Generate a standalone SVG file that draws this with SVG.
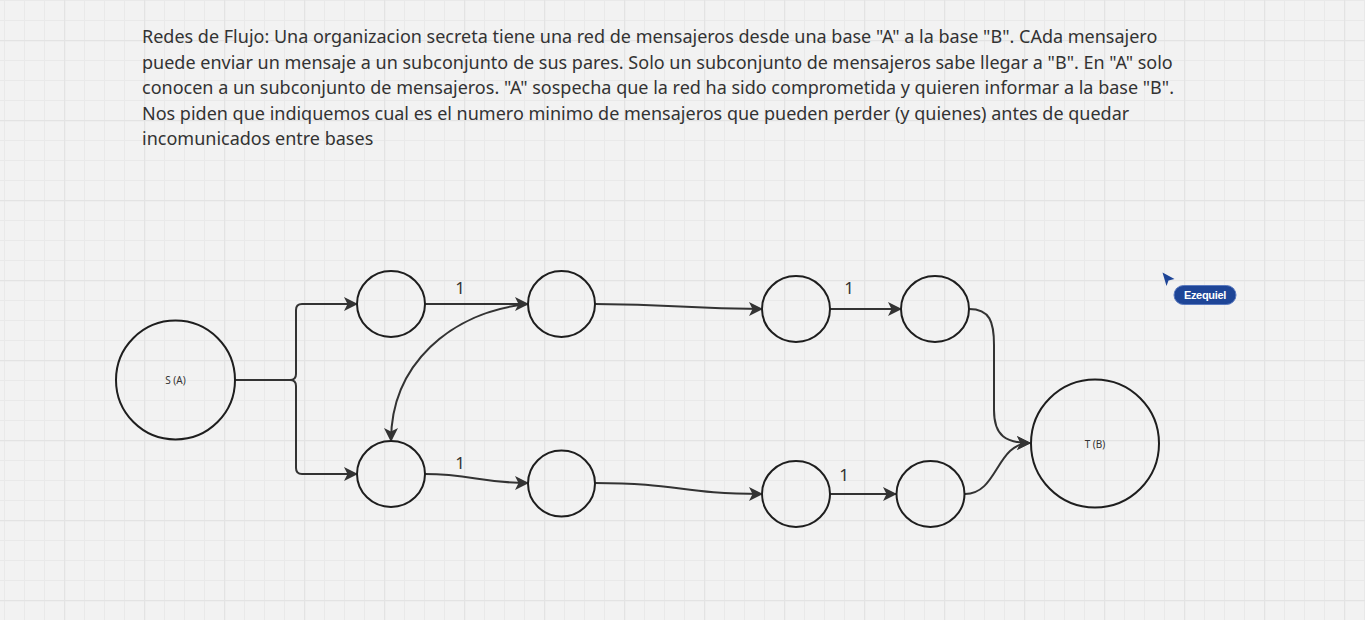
<svg xmlns="http://www.w3.org/2000/svg" width="1365" height="620" viewBox="0 0 1365 620">
<defs>
<pattern id="minor" x="4" y="0" width="20" height="20" patternUnits="userSpaceOnUse">
<path d="M0.5,0 V20 M0,0.5 H20" stroke="#e9e9e9" stroke-width="1" fill="none"/>
</pattern>
<pattern id="major" x="64" y="40" width="80" height="80" patternUnits="userSpaceOnUse">
<path d="M0.5,0 V80 M0,0.5 H80" stroke="#e3e3e3" stroke-width="1.5" fill="none"/>
</pattern>
<marker id="arr" markerUnits="userSpaceOnUse" markerWidth="16" markerHeight="16" refX="13" refY="7" orient="auto" viewBox="0 0 16 14">
<path d="M0,0 L14,7 L0,14 L3.5,7 z" fill="#333333"/>
</marker>
<style>
.node{fill:none;stroke:#1e1e1e;stroke-width:2}
.edge{fill:none;stroke:#333333;stroke-width:2;marker-end:url(#arr)}
.lbl{font-family:"Noto Sans","Open Sans",sans-serif;font-size:10px;fill:#333333;text-anchor:middle}
.w{font-family:"Noto Sans","Open Sans",sans-serif;font-size:17px;fill:#333333;text-anchor:middle}
.desc{font-family:"Noto Sans","Open Sans",sans-serif;font-size:18px;fill:#333333}
</style>
</defs>
<rect width="1365" height="620" fill="#f2f2f2"/>
<rect width="1365" height="620" fill="url(#minor)"/>
<rect width="1365" height="620" fill="url(#major)"/>

<g id="description">
<text class="desc" x="142" y="43">Redes de Flujo: Una organizacion secreta tiene una red de mensajeros desde una base "A" a la base "B". CAda mensajero</text>
<text class="desc" x="142" y="68.5">puede enviar un mensaje a un subconjunto de sus pares. Solo un subconjunto de mensajeros sabe llegar a "B". En "A" solo</text>
<text class="desc" x="142" y="94">conocen a un subconjunto de mensajeros. "A" sospecha que la red ha sido comprometida y quieren informar a la base "B".</text>
<text class="desc" x="142" y="119.5">Nos piden que indiquemos cual es el numero minimo de mensajeros que pueden perder (y quienes) antes de quedar</text>
<text class="desc" x="142" y="145">incomunicados entre bases</text>
</g>

<g id="connectors">
<path class="edge" d="M235,380 H290 Q296,380 296,374 V310 Q296,304 302,304 H357"/>
<path class="edge" d="M235,380 H290 Q296,380 296,386 V468 Q296,474 302,474 H357"/>
<path class="edge" d="M425,304 H528"/>
<path class="edge" d="M528,304 C450,312 391,365 391,441"/>
<path class="edge" d="M425,474 C470,474 482,483 528,483"/>
<path class="edge" d="M595,304 C680,304 680,309 762,309"/>
<path class="edge" d="M595,483 C680,483 680,494 762,494"/>
<path class="edge" d="M830,309 H901"/>
<path class="edge" d="M830,494 H896"/>
<path class="edge" d="M969,309 C990,309 994,322 994,345 L994,410 C994,436 1006,443 1030,443"/>
<path class="edge" d="M965,494 C998,494 996,443 1030,443"/>
<text class="w" x="460" y="294">1</text>
<text class="w" x="460" y="469">1</text>
<text class="w" x="849" y="294">1</text>
<text class="w" x="844" y="481">1</text>
</g>

<g id="S"><circle class="node" cx="175.5" cy="380" r="59.5"/><text class="lbl" x="175.5" y="384">S (A)</text></g>
<g id="n1"><ellipse class="node" cx="391" cy="304" rx="34" ry="33"/></g>
<g id="n2"><ellipse class="node" cx="561.5" cy="304" rx="33.5" ry="33"/></g>
<g id="n3"><ellipse class="node" cx="796" cy="309" rx="34" ry="33"/></g>
<g id="n4"><ellipse class="node" cx="935" cy="309" rx="34" ry="33"/></g>
<g id="n5"><ellipse class="node" cx="391" cy="474" rx="34" ry="33"/></g>
<g id="n6"><ellipse class="node" cx="561.5" cy="483.5" rx="33.5" ry="33"/></g>
<g id="n7"><ellipse class="node" cx="796" cy="494" rx="34" ry="33"/></g>
<g id="n8"><ellipse class="node" cx="930.5" cy="494" rx="34" ry="33"/></g>
<g id="T"><circle class="node" cx="1095" cy="443.5" r="64"/><text class="lbl" x="1095" y="447.5">T (B)</text></g>

<g id="cursor">
<path d="M1162.5,272.5 L1174.5,279 L1168.5,280.5 L1166.5,286 z" fill="#1e4597"/>
<rect x="1174" y="285.5" width="62" height="19" rx="9.5" fill="#1e4597" stroke="#5a7ac0" stroke-width="1"/>
<text x="1205" y="299" font-family="Liberation Sans, Arial, sans-serif" font-size="11" font-weight="bold" fill="#ffffff" text-anchor="middle" letter-spacing="-0.3">Ezequiel</text>
</g>
</svg>
